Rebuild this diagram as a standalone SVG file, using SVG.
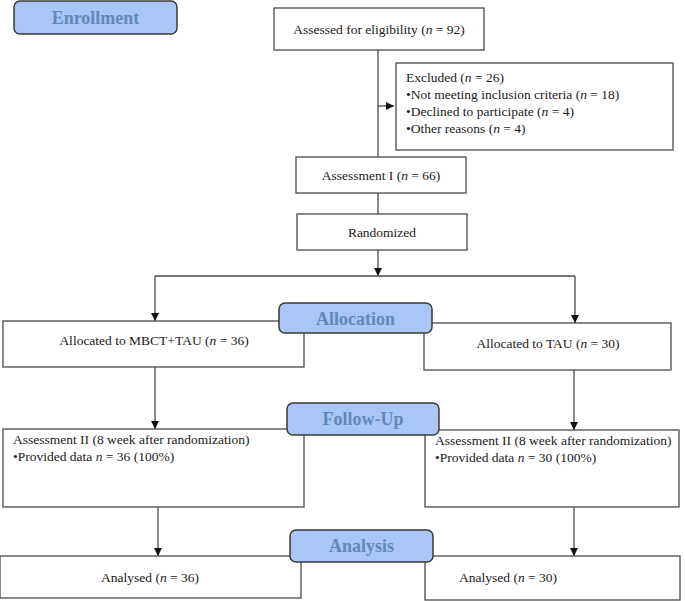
<svg xmlns="http://www.w3.org/2000/svg" width="685" height="601" viewBox="0 0 685 601">
  <style>
    .box { fill: #ffffff; stroke: #4a4a4a; stroke-width: 1.3; }
    .stage { fill: #a9c6f7; stroke: #3a3a3a; stroke-width: 1.5; }
    .stage-text { font-family: "Liberation Serif", "Times New Roman", serif; font-weight: bold; font-size: 18px; fill: #6487b8; text-anchor: middle; }
    .t { font-family: "Liberation Serif", "Times New Roman", serif; font-size: 13.5px; fill: #1a1a1a; }
    .c { text-anchor: middle; }
    .line { fill: none; stroke: #4a4a4a; stroke-width: 1.3; }
  </style>
  <defs>
    <marker id="arrow" viewBox="0 0 10 10" refX="10" refY="5" markerWidth="8" markerHeight="8" markerUnits="userSpaceOnUse" orient="auto">
      <path d="M0,0 L10,5 L0,10 z" fill="#111111"/>
    </marker>
  </defs>
  <rect width="685" height="601" fill="#ffffff"/>

  <!-- connectors -->
  <g id="connectors">
    <path class="line" d="M378,50 V157"/>
    <path class="line" d="M378,106 H394" marker-end="url(#arrow)"/>
    <path class="line" d="M378,193 V214"/>
    <path class="line" d="M378,250 V276" marker-end="url(#arrow)"/>
    <path class="line" d="M155,276 H575"/>
    <path class="line" d="M155,276 V321" marker-end="url(#arrow)"/>
    <path class="line" d="M575,276 V323" marker-end="url(#arrow)"/>
    <path class="line" d="M155,367 V429" marker-end="url(#arrow)"/>
    <path class="line" d="M574,370 V430" marker-end="url(#arrow)"/>
    <path class="line" d="M158,507 V556" marker-end="url(#arrow)"/>
    <path class="line" d="M574,507 V556" marker-end="url(#arrow)"/>
  </g>

  <!-- enrollment -->
  <g id="stage-enrollment">
    <rect class="stage" x="14" y="1" width="163" height="33" rx="6"/>
    <text class="stage-text" x="95.5" y="24">Enrollment</text>
  </g>
  <g id="assessed">
    <rect class="box" x="274" y="8" width="210" height="42"/>
    <text class="t c" x="379" y="34">Assessed for eligibility (<tspan font-style="italic">n</tspan> = 92)</text>
  </g>
  <g id="excluded">
    <rect class="box" x="396" y="63" width="277" height="87"/>
    <text class="t" x="406" y="82">Excluded (<tspan font-style="italic">n</tspan> = 26)</text>
    <text class="t" x="406" y="99">•Not meeting inclusion criteria (<tspan font-style="italic">n</tspan> = 18)</text>
    <text class="t" x="406" y="116">•Declined to participate (<tspan font-style="italic">n</tspan> = 4)</text>
    <text class="t" x="406" y="133">•Other reasons (<tspan font-style="italic">n</tspan> = 4)</text>
  </g>
  <g id="assessment-1">
    <rect class="box" x="296" y="157" width="170" height="36"/>
    <text class="t c" x="381" y="180">Assessment I (<tspan font-style="italic">n</tspan> = 66)</text>
  </g>
  <g id="randomized">
    <rect class="box" x="297" y="214" width="170" height="36"/>
    <text class="t c" x="382" y="237">Randomized</text>
  </g>

  <!-- allocation -->
  <g id="allocated-mbct">
    <rect class="box" x="3" y="321" width="301" height="46"/>
    <text class="t c" x="154" y="345">Allocated to MBCT+TAU (<tspan font-style="italic">n</tspan> = 36)</text>
  </g>
  <g id="allocated-tau">
    <rect class="box" x="424" y="323" width="247" height="47"/>
    <text class="t c" x="548" y="348">Allocated to TAU (<tspan font-style="italic">n</tspan> = 30)</text>
  </g>
  <g id="stage-allocation">
    <rect class="stage" x="279" y="303" width="153" height="30" rx="6"/>
    <text class="stage-text" x="355.5" y="325">Allocation</text>
  </g>

  <!-- follow-up -->
  <g id="followup-mbct">
    <rect class="box" x="3" y="429" width="301" height="78"/>
    <text class="t" x="13" y="444">Assessment II (8 week after randomization)</text>
    <text class="t" x="13" y="461">•Provided data <tspan font-style="italic">n</tspan> = 36 (100%)</text>
  </g>
  <g id="followup-tau">
    <rect class="box" x="425" y="430" width="254" height="77"/>
    <text class="t" x="435" y="445">Assessment II (8 week after randomization)</text>
    <text class="t" x="435" y="462">•Provided data <tspan font-style="italic">n</tspan> = 30 (100%)</text>
  </g>
  <g id="stage-followup">
    <rect class="stage" x="287" y="403" width="152" height="32" rx="6"/>
    <text class="stage-text" x="363" y="425">Follow-Up</text>
  </g>

  <!-- analysis -->
  <g id="analysed-mbct">
    <rect class="box" x="0" y="556" width="301" height="42"/>
    <text class="t c" x="150" y="582">Analysed (<tspan font-style="italic">n</tspan> = 36)</text>
  </g>
  <g id="analysed-tau">
    <rect class="box" x="425" y="556" width="255" height="44"/>
    <text class="t c" x="508" y="582">Analysed (<tspan font-style="italic">n</tspan> = 30)</text>
  </g>
  <g id="stage-analysis">
    <rect class="stage" x="290" y="530" width="143" height="32" rx="6"/>
    <text class="stage-text" x="361.5" y="552">Analysis</text>
  </g>
</svg>
